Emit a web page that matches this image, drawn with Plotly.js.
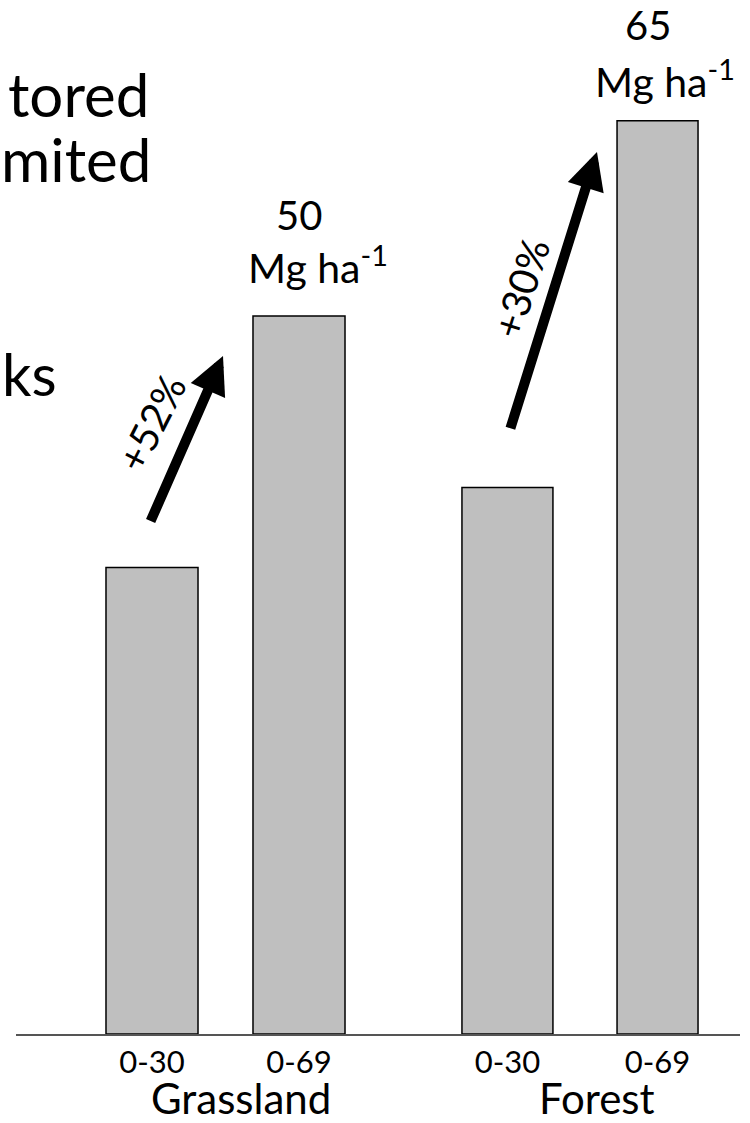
<!DOCTYPE html>
<html>
<head>
<meta charset="utf-8">
<script src="https://cdn.plot.ly/plotly-3.0.1.min.js"></script>
<style>
  html, body { margin: 0; padding: 0; background: #ffffff; }
  #chart { width: 750px; height: 1123px; }
</style>
</head>
<body>
<div id="chart"></div>
<script>
// ---- data ----
const categories = ['0-30', '0-69', '0-30', '0-69'];
const groups = ['Grassland', 'Forest'];
const stockValues = [33.2, 51.1, 38.9, 65.0];      // bar heights as drawn
const stockLabels = ['50', '65'];                    // labelled totals (0-69 cm)
const unitLabel = 'Mg ha<sup>-1</sup>';
const changeLabels = ['+52%', '+30%'];
const sideText = ['tored', 'mited', 'ks'];

// ---- layout constants (positions / styles) ----
const xPos = [1, 2, 3.418, 4.439];
const barWidths = [0.626, 0.626, 0.619, 0.551];
const FONT = 'Lato, "Open Sans", "DejaVu Sans", sans-serif';

const trace = {
  type: 'bar',
  x: xPos,
  y: stockValues,
  width: barWidths,
  marker: { color: '#bfbfbf', line: { color: '#000000', width: 1.5 } },
  hoverinfo: 'skip',
  showlegend: false
};

const ann = [];
// side text (cropped slide text)
ann.push({ xref: 'paper', yref: 'paper', x: (151 - 16) / 724, y: (1034 - 94) / 1034,
  xanchor: 'right', yanchor: 'middle', text: sideText[0], showarrow: false,
  font: { family: FONT, size: 60, color: '#000' } });
ann.push({ xref: 'paper', yref: 'paper', x: (153 - 16) / 724, y: (1034 - 159) / 1034,
  xanchor: 'right', yanchor: 'middle', text: sideText[1], showarrow: false,
  font: { family: FONT, size: 60, color: '#000' } });
ann.push({ xref: 'paper', yref: 'paper', x: (0 - 16) / 724, y: (1034 - 373) / 1034,
  xanchor: 'left', yanchor: 'middle', text: sideText[2], showarrow: false,
  font: { family: FONT, size: 58, color: '#000' } });

// value labels above the 0-69 bars
const labelBars = [1, 3];
const numShift = [[-0.5, 101], [-10, 96]];
const unitShift = [[19, 51], [7.5, 42]];
labelBars.forEach((b, i) => {
  ann.push({ xref: 'x', yref: 'y', x: xPos[b], y: stockValues[b], xanchor: 'center', yanchor: 'middle',
    xshift: numShift[i][0], yshift: numShift[i][1], text: stockLabels[i], showarrow: false,
    font: { family: FONT, size: 40, color: '#000' } });
  ann.push({ xref: 'x', yref: 'y', x: xPos[b], y: stockValues[b], xanchor: 'center', yanchor: 'middle',
    xshift: unitShift[i][0], yshift: unitShift[i][1], text: unitLabel, showarrow: false,
    font: { family: FONT, size: 41, color: '#000' } });
});

// arrows between bars
const arrows = [
  { tail: [xPos[0] - 0.014, stockValues[0] + 3.2], tip: [xPos[0] + 0.483, stockValues[1] - 2.85],
    lbl: [0.007, 7.12], ang: -63 },
  { tail: [xPos[2] + 0.017, stockValues[2] + 4.1], tip: [xPos[2] + 0.609, stockValues[3] - 2.22],
    lbl: [0.075, 10.1], ang: -72 }
];
arrows.forEach((a, i) => {
  ann.push({ xref: 'x', yref: 'y', axref: 'x', ayref: 'y', x: a.tip[0], y: a.tip[1],
    ax: a.tail[0], ay: a.tail[1], text: '', showarrow: true, arrowhead: 2, arrowsize: 0.75,
    arrowwidth: 10, arrowcolor: '#000000', standoff: 0, startstandoff: 0 });
  ann.push({ xref: 'x', yref: 'y', x: a.tail[0] + a.lbl[0], y: a.tail[1] + a.lbl[1],
    xanchor: 'center', yanchor: 'middle', text: changeLabels[i], textangle: a.ang, showarrow: false,
    font: { family: FONT, size: 40, color: '#000' } });
});

// group labels
groups.forEach((g, i) => {
  ann.push({ xref: 'x', yref: 'paper', x: (xPos[2 * i] + xPos[2 * i + 1]) / 2, y: -89 / 1034,
    xanchor: 'center', yanchor: 'bottom', xshift: 15, yshift: -2, text: g, showarrow: false,
    font: { family: FONT, size: 42, color: '#000' } });
});

const layout = {
  width: 750, height: 1123,
  margin: { l: 16, r: 10, t: 0, b: 89 },
  paper_bgcolor: '#ffffff', plot_bgcolor: '#ffffff',
  showlegend: false,
  xaxis: {
    range: [0.0748, 5.0], showline: true, linecolor: '#555555', linewidth: 1.5,
    showgrid: false, zeroline: false, ticks: '',
    tickmode: 'array', tickvals: xPos, ticktext: categories,
    tickfont: { family: FONT, size: 31, color: '#000' }
  },
  yaxis: { range: [0, 1034 / 14.05], visible: false, showgrid: false, zeroline: false },
  annotations: ann
};

Plotly.newPlot('chart', [trace], layout, { displayModeBar: false, staticPlot: true });
</script>
</body>
</html>
